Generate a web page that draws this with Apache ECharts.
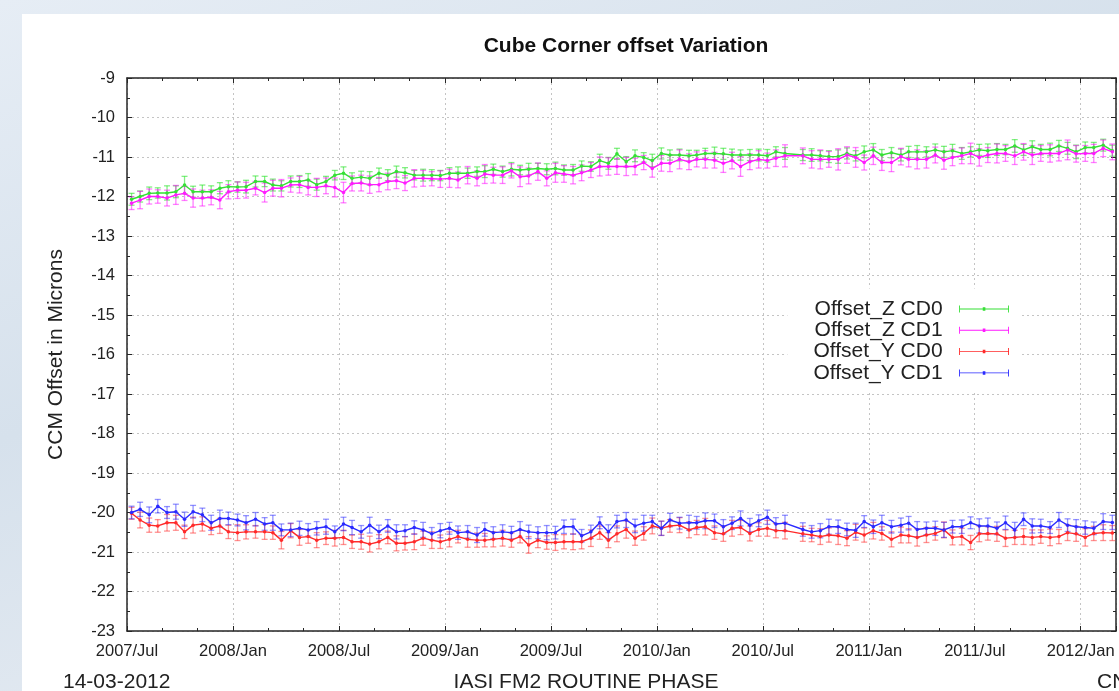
<!DOCTYPE html>
<html><head><meta charset="utf-8">
<script src="https://cdn.jsdelivr.net/npm/echarts@6/dist/echarts.min.js"></script>
<style>
html,body{margin:0;padding:0;width:1119px;height:691px;overflow:hidden;}
body{background:linear-gradient(160deg,#e6edf5 0%,#d6e1ec 40%,#e2e9f1 70%,#cfdbe8 100%);position:relative;}
#panel{position:absolute;left:22px;top:14px;right:0;bottom:0;background:#fff;}
#chart{position:absolute;left:0;top:0;width:1119px;height:691px;}
</style></head><body><div id="panel"></div><div id="chart"></div>
<script>
const tickLabels = ['2007/Jul','2008/Jan','2008/Jul','2009/Jan','2009/Jul','2010/Jan','2010/Jul','2011/Jan','2011/Jul','2012/Jan'];
const seriesNames = ['Offset_Z CD0','Offset_Z CD1','Offset_Y CD0','Offset_Y CD1'];
const dates = [
'2007-07-09','2007-07-24','2007-08-09','2007-08-24','2007-09-09','2007-09-24','2007-10-09','2007-10-24','2007-11-09','2007-11-24','2007-12-09','2007-12-24',
'2008-01-09','2008-01-24','2008-02-09','2008-02-24','2008-03-09','2008-03-24','2008-04-09','2008-04-24','2008-05-09','2008-05-24','2008-06-09','2008-06-24',
'2008-07-09','2008-07-24','2008-08-09','2008-08-24','2008-09-09','2008-09-24','2008-10-09','2008-10-24','2008-11-09','2008-11-24','2008-12-09','2008-12-24',
'2009-01-09','2009-01-24','2009-02-09','2009-02-24','2009-03-09','2009-03-24','2009-04-09','2009-04-24','2009-05-09','2009-05-24','2009-06-09','2009-06-24',
'2009-07-09','2009-07-24','2009-08-09','2009-08-24','2009-09-09','2009-09-24','2009-10-09','2009-10-24','2009-11-09','2009-11-24','2009-12-09','2009-12-24',
'2010-01-09','2010-01-24','2010-02-09','2010-02-24','2010-03-09','2010-03-24','2010-04-09','2010-04-24','2010-05-09','2010-05-24','2010-06-09','2010-06-24',
'2010-07-09','2010-07-24','2010-08-09','2010-09-09','2010-09-24','2010-10-09','2010-10-24','2010-11-09','2010-11-24','2010-12-09','2010-12-24',
'2011-01-09','2011-01-24','2011-02-09','2011-02-24','2011-03-09','2011-03-24','2011-04-09','2011-04-24','2011-05-09','2011-05-24','2011-06-09','2011-06-24',
'2011-07-09','2011-07-24','2011-08-09','2011-08-24','2011-09-09','2011-09-24','2011-10-09','2011-10-24','2011-11-09','2011-11-24','2011-12-09','2011-12-24',
'2012-01-09','2012-01-24','2012-02-09','2012-02-24'];
const zCD0 = [
-12.07,-12.00,-11.92,-11.91,-11.91,-11.88,-11.71,-11.88,-11.88,-11.88,
-11.79,-11.75,-11.76,-11.75,-11.62,-11.62,-11.71,-11.73,-11.62,-11.62,
-11.58,-11.70,-11.62,-11.46,-11.41,-11.54,-11.51,-11.54,-11.41,-11.46,
-11.37,-11.40,-11.46,-11.46,-11.46,-11.47,
-11.41,-11.41,-11.41,-11.37,-11.37,-11.31,-11.37,-11.31,-11.33,-11.31,-11.29,-11.31,-11.29,-11.33,-11.33,-11.23,-11.24,-11.09,-11.16,-10.92,-11.12,-10.97,-11.01,-11.09,-10.91,-10.95,-10.95,-10.97,-10.95,-10.91,-10.91,-10.92,-10.95,-10.95,-10.95,-10.95,-10.97,-10.87,
-10.91,
-10.95,-10.95,-10.97,-10.99,-10.99,-10.91,-10.97,-10.87,-10.82,-10.95,-10.89,-10.95,-10.87,-10.87,-10.87,-10.82,-10.87,-10.84,-10.91,-10.87,-10.82,-10.84,-10.81,-10.81,-10.72,-10.82,-10.74,-10.81,-10.81,-10.72,-10.78,-10.87,-10.76,-10.76,-10.70,-10.84];
const zCD1 = [
-12.17,-12.09,-12.00,-12.00,-12.04,-11.96,-11.92,-12.04,-12.04,-12.02,
-12.09,-11.88,-11.84,-11.84,-11.79,-11.90,-11.79,-11.79,-11.71,-11.70,
-11.77,-11.77,-11.73,-11.77,-11.90,-11.67,-11.66,-11.70,-11.70,-11.62,
-11.60,-11.66,-11.54,-11.54,-11.55,-11.56,
-11.54,-11.58,-11.46,-11.54,-11.43,-11.46,-11.46,-11.35,-11.50,-11.48,-11.37,-11.54,-11.40,-11.43,-11.46,-11.40,-11.33,-11.24,-11.24,-11.24,-11.24,-11.24,-11.14,-11.29,-11.16,-11.16,-11.06,-11.12,-11.06,-11.06,-11.08,-11.16,-11.09,-11.24,-11.12,-11.06,-11.09,-11.03,
-10.97,
-10.97,-11.06,-11.06,-11.06,-11.06,-10.95,-11.01,-11.14,-10.97,-11.14,-11.14,-10.99,-11.06,-11.06,-11.06,-10.95,-11.08,-11.01,-10.97,-10.91,-11.01,-10.95,-10.91,-10.91,-10.97,-10.87,-10.95,-10.91,-10.91,-10.91,-10.82,-10.92,-10.91,-10.91,-10.78,-10.87];
const yCD0 = [
-20.02,-20.19,-20.32,-20.34,-20.26,-20.26,-20.49,-20.32,-20.29,-20.40,-20.34,-20.49,-20.51,-20.49,-20.49,-20.49,-20.51,-20.70,-20.46,-20.63,-20.61,-20.70,-20.65,-20.65,-20.63,-20.74,-20.74,
-20.80,-20.74,-20.63,-20.78,-20.78,-20.74,-20.65,-20.70,-20.74,-20.68,-20.61,-20.68,-20.70,-20.70,-20.68,-20.65,-20.70,-20.61,-20.82,-20.70,-20.76,-20.76,-20.74,-20.74,-20.74,-20.65,-20.51,-20.70,
-20.54,-20.43,-20.65,-20.53,-20.34,-20.40,-20.34,-20.32,-20.44,-20.38,-20.36,-20.51,-20.54,-20.40,-20.38,-20.53,-20.43,-20.40,-20.46,-20.46,
-20.54,-20.57,-20.61,-20.57,-20.59,-20.65,-20.50,
-20.57,-20.46,-20.53,-20.68,-20.57,-20.59,-20.63,-20.57,-20.53,-20.44,-20.63,-20.61,-20.76,-20.54,-20.53,-20.54,-20.65,-20.63,-20.61,-20.63,-20.61,-20.63,-20.61,-20.51,-20.54,-20.63,-20.53,-20.51,
-20.52];
const yCD1 = [
-20.00,-19.92,-20.06,-19.84,-20.00,-19.98,-20.17,-19.98,-20.06,-20.26,-20.15,-20.15,-20.19,-20.26,-20.17,-20.29,-20.26,-20.44,-20.44,-20.40,-20.44,-20.40,-20.36,-20.49,-20.29,-20.38,-20.49,
-20.32,-20.49,-20.34,-20.49,-20.46,-20.38,-20.44,-20.54,-20.46,-20.40,-20.51,-20.49,-20.57,-20.43,-20.51,-20.49,-20.51,-20.43,-20.49,-20.51,-20.51,-20.51,-20.36,-20.36,-20.59,-20.49,-20.26,-20.49,
-20.23,-20.19,-20.34,-20.27,-20.23,-20.40,-20.19,-20.27,-20.26,-20.26,-20.21,-20.21,-20.36,-20.27,-20.15,-20.32,-20.21,-20.12,-20.29,-20.27,
-20.43,-20.49,-20.46,-20.36,-20.36,-20.43,-20.45,
-20.23,-20.36,-20.26,-20.36,-20.32,-20.27,-20.43,-20.40,-20.40,-20.44,-20.36,-20.36,-20.26,-20.34,-20.34,-20.40,-20.26,-20.44,-20.17,-20.34,-20.34,-20.38,-20.19,-20.32,-20.36,-20.38,-20.40,-20.23,
-20.25];
const zCD0err = [
.15,.14,.16,.13,.18,.15,.22,.14,.17,.15,.14,.15,.13,.16,.14,.13,.15,.13,.14,.15,
.16,.14,.13,.12,.16,.14,.15,.17,.13,.14,.14,.13,.12,.15,.14,.13,.14,.16,.13,.12,
.15,.13,.14,.17,.12,.15,.13,.14,.16,.13,.14,.13,.12,.16,.15,.14,.13,.15,.12,.16,
.14,.13,.15,.14,.12,.13,.16,.14,.15,.13,.14,.15,.16,.13,.15,.14,.16,.13,.15,.17,
.14,.13,.15,.16,.14,.13,.15,.14,.16,.13,.15,.14,.16,.15,.13,.14,.17,.15,.13,.16,
.14,.15,.13,.16,.14,.15,.17,.14,.13,.15,.14];
const zCD1err = [
.16,.22,.19,.17,.20,.24,.18,.23,.20,.19,.22,.18,.21,.20,.17,.24,.20,.22,.18,.21,
.19,.23,.20,.24,.26,.19,.20,.22,.18,.21,.20,.19,.22,.20,.18,.21,.23,.20,.22,.19,
.24,.20,.21,.18,.25,.20,.22,.19,.24,.21,.22,.20,.19,.24,.22,.20,.23,.21,.18,.22,
.20,.21,.24,.20,.19,.22,.20,.23,.21,.25,.20,.22,.19,.21,.28,.20,.22,.24,.20,.27,
.21,.25,.19,.22,.20,.23,.21,.19,.24,.22,.20,.23,.21,.20,.26,.22,.19,.24,.20,.22,
.21,.24,.20,.22,.19,.25,.21,.20,.23,.21,.20];
const yCD0err = [
.15,.20,.18,.16,.21,.19,.17,.20,.18,.16,.19,.17,.20,.18,.16,.19,.17,.22,.18,.20,
.17,.19,.16,.20,.18,.17,.19,.20,.18,.16,.19,.17,.20,.18,.21,.17,.19,.16,.20,.18,
.17,.19,.20,.18,.16,.21,.19,.17,.20,.18,.20,.18,.21,.17,.19,.20,.22,.18,.17,.20,
.18,.16,.19,.20,.18,.21,.17,.19,.20,.18,.19,.17,.20,.18,.21,.19,.17,.20,.18,.22,
.19,.20,.18,.21,.17,.19,.20,.18,.22,.19,.17,.20,.19,.21,.18,.20,.17,.19,.21,.18,
.20,.19,.17,.21,.18,.20,.19,.22,.18,.20,.19];
const yCD1err = [
.16,.18,.20,.17,.15,.19,.18,.16,.17,.19,.21,.16,.15,.18,.17,.16,.19,.15,.17,.18,
.16,.17,.19,.15,.17,.18,.16,.20,.17,.16,.18,.15,.17,.19,.16,.18,.15,.17,.16,.19,
.17,.15,.18,.16,.20,.17,.15,.18,.16,.17,.19,.16,.17,.15,.18,.16,.19,.17,.20,.16,
.18,.17,.15,.19,.16,.20,.17,.18,.16,.19,.17,.15,.18,.16,.20,.17,.16,.18,.19,.17,
.16,.18,.15,.17,.19,.16,.18,.17,.20,.16,.18,.19,.16,.17,.15,.18,.20,.16,.17,.19,
.16,.18,.17,.15,.19,.16,.18,.17,.16,.20,.18];

function monthOffset(s){
  const p = s.split('-').map(Number);
  const dim = new Date(p[0], p[1], 0).getDate();
  return (p[0]-2007)*12 + (p[1]-7) + (p[2]-1)/dim;
}
const xs = dates.map(monthOffset);

const FONT = '"Liberation Sans", Arial, Helvetica, sans-serif';
const lineColors = ['#35e035','#ff1aff','#ff2a2a','#2a2aff'];
const errColors = ['rgba(30,225,30,0.55)','rgba(255,0,255,0.5)','rgba(255,40,40,0.5)','rgba(40,40,255,0.5)'];
const vals = [zCD0, zCD1, yCD0, yCD1];
const errs = [zCD0err, zCD1err, yCD0err, yCD1err];

function errRender(color){
  return function(params, api){
    const x = api.value(0), lo = api.value(1), hi = api.value(2);
    const p1 = api.coord([x, lo]), p2 = api.coord([x, hi]);
    const w = 3;
    const st = {stroke: color, lineWidth: 1.3};
    return {type:'group', children:[
      {type:'line', shape:{x1:p1[0],y1:p1[1],x2:p2[0],y2:p2[1]}, style:st},
      {type:'line', shape:{x1:p1[0]-w,y1:p1[1],x2:p1[0]+w,y2:p1[1]}, style:st},
      {type:'line', shape:{x1:p2[0]-w,y1:p2[1],x2:p2[0]+w,y2:p2[1]}, style:st}
    ]};
  };
}

const series = [];
for (let s = 0; s < 4; s++) {
  series.push({
    type:'custom', name: seriesNames[s] + ' err', xAxisIndex:0, yAxisIndex:0,
    renderItem: errRender(errColors[s]),
    encode:{x:0, y:[1,2]},
    data: xs.map((x,i)=>[x, vals[s][i]-errs[s][i], vals[s][i]+errs[s][i]]),
    z: 2, silent: true
  });
}
for (let s = 0; s < 4; s++) {
  series.push({
    type:'line', name: seriesNames[s], xAxisIndex:0, yAxisIndex:0,
    data: xs.map((x,i)=>[x, vals[s][i]]),
    symbol:'circle', symbolSize:3.5, showSymbol:true,
    lineStyle:{width:1.4, color: lineColors[s]},
    itemStyle:{color: lineColors[s]},
    z: 3
  });
}

const iconPath = 'path://M0,0h1v8h-1z M0,3.5h57v1h-57z M56,0h1v8h-1z M27,2h3v4h-3z';
const axisLineStyle = {color:'#262626', width:1.5};
const gridLine = {show:true, lineStyle:{color:'#c4c4c4', type:[2,3], width:1}};

const chart = echarts.init(document.getElementById('chart'), null, {renderer:'canvas'});
chart.setOption({
  animation:false,
  backgroundColor:'transparent',
  title:{
    text:'Cube Corner offset Variation', left:626, top:36, textAlign:'center', padding:0,
    textStyle:{fontFamily:FONT, fontSize:21, fontWeight:'bold', color:'#111'}
  },
  legend:{
    orient:'vertical', align:'right', right:98, top:288.5, padding:[10,12,8,26], itemGap:0.3,
    backgroundColor:'#ffffff',
    itemWidth:57, itemHeight:7,
    textStyle:{fontFamily:FONT, fontSize:21, color:'#222', lineHeight:21, padding:[0,8,0,0]},
    data: seriesNames.map(n=>({name:n, icon:iconPath}))
  },
  grid:{left:127, top:78, width:994.6, height:553, containLabel:false},
  xAxis:[
    {type:'value', position:'bottom', min:0, max:56, interval:6,
     axisLine:{show:true, onZero:false, lineStyle:axisLineStyle},
     axisTick:{show:true, inside:true, length:5, lineStyle:{color:'#262626', width:1}},
     minorTick:{show:true, splitNumber:3, length:3, lineStyle:{color:'#262626', width:1}},
     axisLabel:{margin:12, fontFamily:FONT, fontSize:16.5, color:'#222',
       formatter:v=>{const k=Math.round(v/6); return (Math.abs(v-k*6)<1e-6 && tickLabels[k]) ? tickLabels[k] : '';}},
     splitLine:gridLine},
    {type:'value', position:'top', min:0, max:56, interval:6,
     axisLine:{show:true, onZero:false, lineStyle:axisLineStyle},
     axisTick:{show:true, inside:true, length:5, lineStyle:{color:'#262626', width:1}},
     minorTick:{show:true, splitNumber:3, length:3, lineStyle:{color:'#262626', width:1}},
     axisLabel:{show:false}, splitLine:{show:false}}
  ],
  yAxis:[
    {type:'value', position:'left', min:-23, max:-9, interval:1,
     name:'CCM Offset in Microns', nameLocation:'middle', nameRotate:90, nameGap:60,
     nameTextStyle:{fontFamily:FONT, fontSize:21, color:'#222'},
     axisLine:{show:true, onZero:false, lineStyle:axisLineStyle},
     axisTick:{show:true, inside:true, length:5, lineStyle:{color:'#262626', width:1}},
     minorTick:{show:true, splitNumber:2, length:3, lineStyle:{color:'#262626', width:1}},
     axisLabel:{margin:12, fontFamily:FONT, fontSize:16.5, color:'#222'},
     splitLine:gridLine},
    {type:'value', position:'right', min:-23, max:-9, interval:1,
     axisLine:{show:true, onZero:false, lineStyle:axisLineStyle},
     axisTick:{show:true, inside:true, length:5, lineStyle:{color:'#262626', width:1}},
     minorTick:{show:true, splitNumber:2, length:3, lineStyle:{color:'#262626', width:1}},
     axisLabel:{show:false}, splitLine:{show:false}}
  ],
  graphic:[
    {type:'text', left:63, top:672, style:{text:'14-03-2012', font:'21px ' + FONT, fill:'#222'}},
    {type:'text', x:586, y:672, style:{text:'IASI FM2 ROUTINE PHASE', font:'21px ' + FONT, fill:'#222', textAlign:'center'}},
    {type:'text', x:1097, y:672, style:{text:'CNES', font:'21px ' + FONT, fill:'#222'}}
  ],
  series: series
});
</script></body></html>
